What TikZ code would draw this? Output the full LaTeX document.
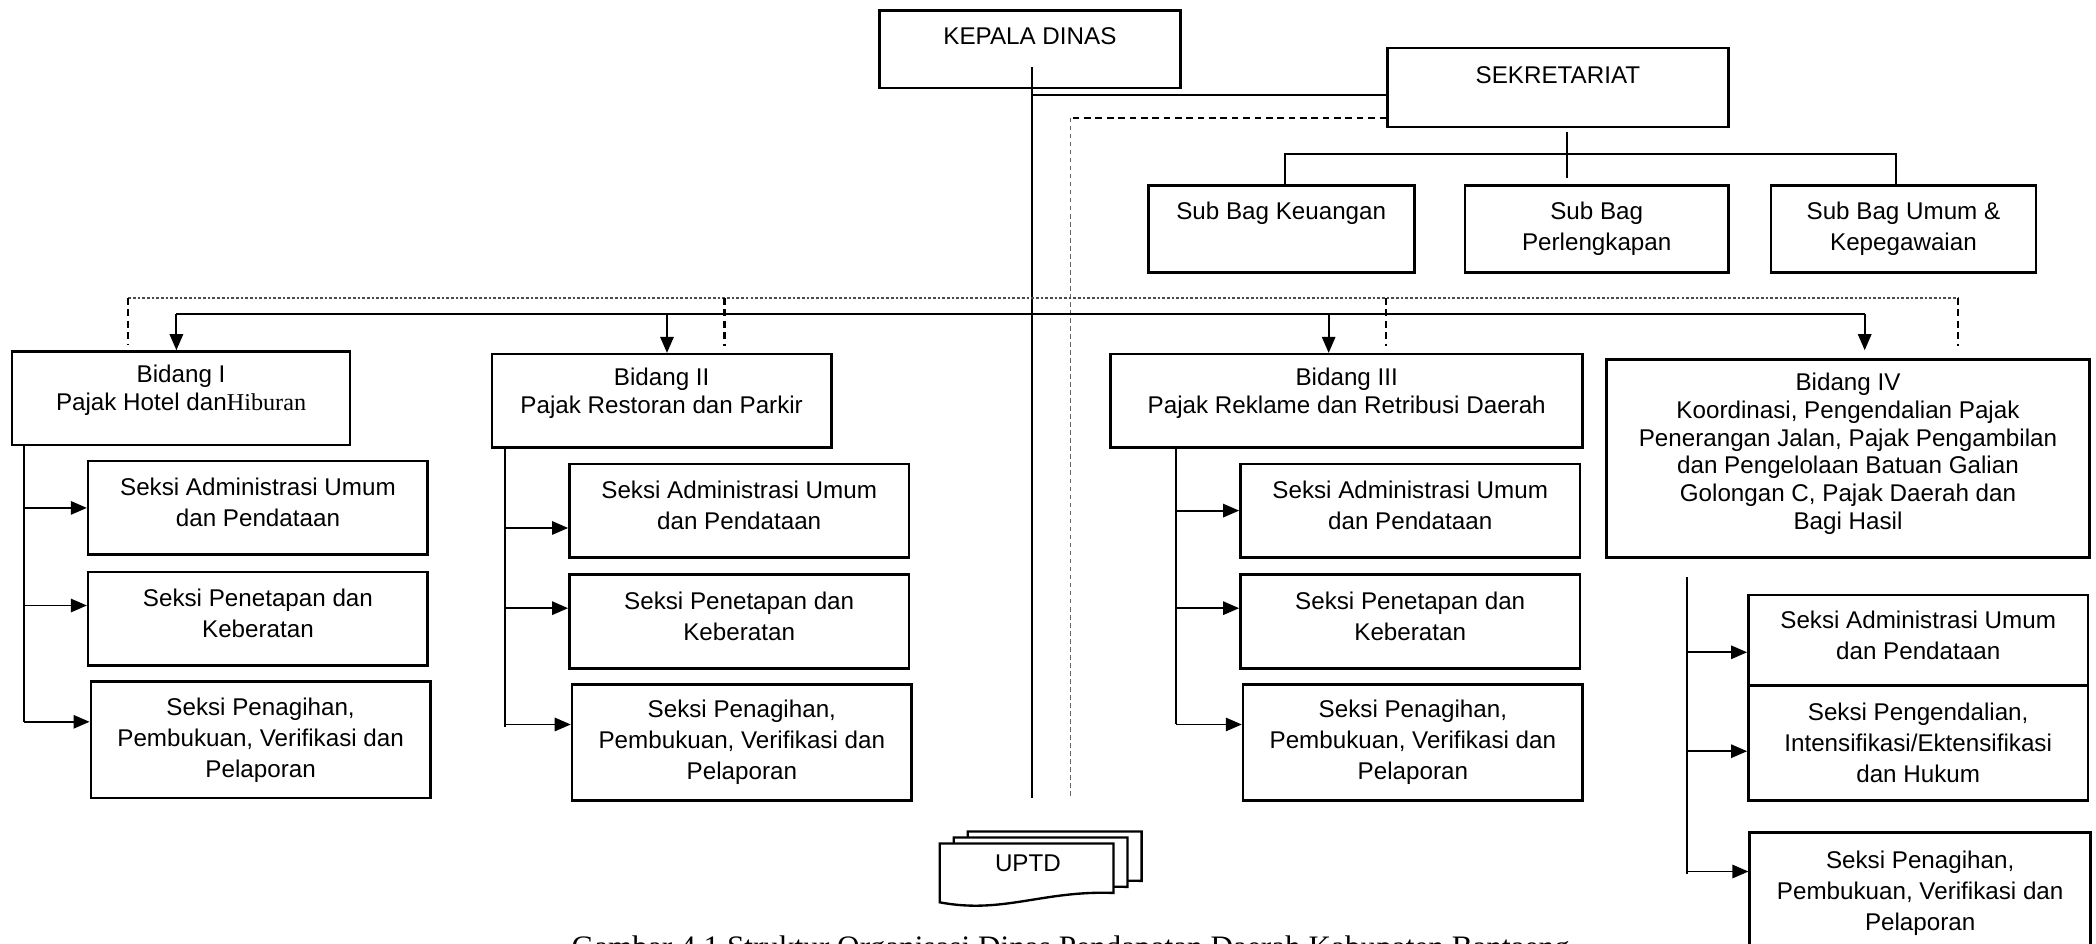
\documentclass[tikz,border=0pt]{standalone}
\usepackage{fontspec}
\setmainfont{Liberation Sans}
\newfontfamily\serifhuruf{Liberation Serif}
\usetikzlibrary{arrows.meta}
\tikzset{
kotak/.style={
draw,
line width=0.55pt,
fill=white,
anchor=north west,
align=center,
inner sep=1pt,
font=\fontsize{5.15}{6.6}\selectfont
},
kepala/.style={
kotak,
minimum width=22.5mm,
minimum height=5.8mm
},
subbag/.style={
kotak,
minimum height=6.5mm
},
bidang/.style={
kotak,
minimum height=7mm,
font=\fontsize{5.15}{5.9}\selectfont
},
seksi/.style={
kotak,
minimum width=25.4mm,
minimum height=7mm
},
seksitiga/.style={
seksi,
minimum height=8.7mm
},
teks/.style={
font=\fontsize{5.15}{6.6}\selectfont,
inner sep=0pt
},
judul/.style={
font=\serifhuruf\fontsize{6.65}{8}\selectfont,
inner sep=0pt
},
garis/.style={
line width=0.4pt
},
panah/.style={
-{Triangle[length=1.2mm,width=1mm]},
line width=0.4pt
},
putus/.style={
line width=0.45pt,
dash pattern=on 0.5mm off 0.35mm
},
titik/.style={
line width=0.3pt,
black!70,
dash pattern=on 0.2mm off 0.15mm
},
tipis/.style={
line width=0.25pt,
black!60,
dash pattern=on 0.35mm off 0.25mm
}
}

\begin{document}
\begin{tikzpicture}[x=0.1mm, y=-0.1mm]
\path[fill=white, use as bounding box] (0,0) rectangle (1568,706);

% pimpinan dan sekretariat
\node[kepala, text depth=5.7pt] (kd) at (657,7) {KEPALA DINAS};
\node[kepala, minimum width=25.5mm, minimum height=5.9mm, text depth=5.4pt] (sek) at (1037,35) {SEKRETARIAT};

\node[subbag, minimum width=19.9mm, text depth=7.7pt] (sb1) at (858,138) {Sub Bag Keuangan};
\node[subbag, minimum width=19.7mm] (sb2) at (1095,138) {Sub Bag\\Perlengkapan};
\node[subbag, minimum width=19.8mm] (sb3) at (1324,138) {Sub Bag Umum \&\\Kepegawaian};

% bidang
\node[bidang, minimum width=25.3mm] (b1) at (8,262) {Bidang I\\Pajak Hotel dan{\serifhuruf Hiburan}\\[-1.4pt]\mbox{}};
\node[bidang, minimum width=25.4mm] (b2) at (367,264) {Bidang II\\Pajak Restoran dan Parkir\\[-1.4pt]\mbox{}};
\node[bidang, minimum width=35.3mm] (b3) at (830,264) {Bidang III\\Pajak Reklame dan Retribusi Daerah\\[-1.4pt]\mbox{}};
\node[bidang, minimum width=36.1mm, minimum height=14.8mm] (b4) at (1201,268) {Bidang IV\\Koordinasi, Pengendalian Pajak\\Penerangan Jalan, Pajak Pengambilan\\dan Pengelolaan Batuan Galian\\Golongan C, Pajak Daerah dan\\Bagi Hasil\\[-2.8pt]\mbox{}};

% seksi bidang I
\node[seksi] (s11) at (65,344) {Seksi Administrasi Umum\\dan Pendataan\\[-4.3pt]\mbox{}};
\node[seksi] (s12) at (65,427) {Seksi Penetapan dan\\Keberatan\\[-4.3pt]\mbox{}};
\node[seksitiga] (s13) at (67,509) {Seksi Penagihan,\\Pembukuan, Verifikasi dan\\Pelaporan};

% seksi bidang II
\node[seksi] (s21) at (425,346) {Seksi Administrasi Umum\\dan Pendataan\\[-4.3pt]\mbox{}};
\node[seksi] (s22) at (425,429) {Seksi Penetapan dan\\Keberatan\\[-4.3pt]\mbox{}};
\node[seksitiga] (s23) at (427,511) {Seksi Penagihan,\\Pembukuan, Verifikasi dan\\Pelaporan};

% seksi bidang III
\node[seksi] (s31) at (927,346) {Seksi Administrasi Umum\\dan Pendataan\\[-4.3pt]\mbox{}};
\node[seksi] (s32) at (927,429) {Seksi Penetapan dan\\Keberatan\\[-4.3pt]\mbox{}};
\node[seksitiga] (s33) at (929,511) {Seksi Penagihan,\\Pembukuan, Verifikasi dan\\Pelaporan};

% seksi bidang IV
\node[seksi, minimum height=6.8mm] (s41) at (1307,444) {Seksi Administrasi Umum\\dan Pendataan\\[-4.3pt]\mbox{}};
\node[seksi, minimum height=8.6mm] (s42) at (1307,512) {Seksi Pengendalian,\\Intensifikasi/Ektensifikasi\\dan Hukum};
\node[seksitiga, minimum width=25.5mm, minimum height=9mm] (s43) at (1308,622) {Seksi Penagihan,\\Pembukuan, Verifikasi dan\\Pelaporan};

\coordinate (kdbawah) at (772,597);
\coordinate (uptdgaris) at (801,597);
\coordinate (cabang) at (1172,115);
\coordinate (koor) at (0,223);
\coordinate (jalur) at (0,235);
\coordinate (kol1) at (18,0);
\coordinate (kol2) at (378,0);
\coordinate (kol3) at (880,0);
\coordinate (kol4) at (1262,0);

% garis komando
\draw[garis] ([yshift=1.7mm]kdbawah |- kd.south) -- (kdbawah);
\draw[garis] ([yshift=-0.55mm]sek.west) -- ([yshift=-0.55mm]kdbawah |- sek.west);
\draw[putus] ([yshift=-2.25mm]sek.west) -- ([yshift=-2.25mm]uptdgaris |- sek.west);
\draw[tipis] ([yshift=-2.25mm]uptdgaris |- sek.west) -- (uptdgaris);

\draw[garis] ([yshift=-0.3mm]cabang |- sek.south) -- ([yshift=0.5mm]cabang |- sb2.north);
\draw[garis] ([xshift=0.25mm]sb1.north) |- (cabang) -| ([xshift=-0.55mm]sb3.north);

% garis koordinasi
\draw[titik] ([xshift=-3.95mm]b1.north |- koor) -- ([xshift=8.25mm]b4.north |- koor);
\draw[putus] ([xshift=-3.95mm]b1.north |- koor) -- ([xshift=-3.95mm,yshift=0.4mm]b1.north);
\draw[putus] ([xshift=4.7mm]b2.north |- koor) -- ([xshift=4.7mm,yshift=0.5mm]b2.north);
\draw[putus] ([xshift=2.95mm]b3.north |- koor) -- ([xshift=2.95mm,yshift=0.5mm]b3.north);
\draw[putus] ([xshift=8.25mm]b4.north |- koor) -- ([xshift=8.25mm,yshift=0.9mm]b4.north);

\draw[garis, line width=0.3pt] ([xshift=-0.35mm]b1.north |- jalur) -- ([xshift=1.25mm]b4.north |- jalur);
\draw[panah] ([xshift=-0.35mm]b1.north |- jalur) -- ([xshift=-0.35mm]b1.north);
\draw[panah] ([xshift=0.4mm]b2.north |- jalur) -- ([xshift=0.4mm]b2.north);
\draw[panah] ([xshift=-1.35mm]b3.north |- jalur) -- ([xshift=-1.35mm]b3.north);
\draw[panah] ([xshift=1.25mm]b4.north |- jalur) -- ([xshift=1.25mm,yshift=0.6mm]b4.north);

% bidang ke seksi
\draw[garis] (kol1 |- b1.south) -- ([yshift=1.35mm]kol1 |- s13.west);
\draw[panah] (kol1 |- s11.west) -- (s11.west);
\draw[panah] ([yshift=1mm]kol1 |- s12.west) -- ([yshift=1mm]s12.west);
\draw[panah] ([yshift=1.35mm]kol1 |- s13.west) -- ([yshift=1.35mm]s13.west);

\draw[garis] (kol2 |- b2.south) -- ([yshift=1.15mm]kol2 |- s23.west);
\draw[panah] ([yshift=-1.3mm]kol2 |- s21.west) -- ([yshift=-1.3mm]s21.west);
\draw[panah] ([yshift=1mm]kol2 |- s22.west) -- ([yshift=1mm]s22.west);
\draw[panah] ([yshift=1.35mm]kol2 |- s23.west) -- ([yshift=1.35mm]s23.west);

\draw[garis] (kol3 |- b3.south) -- ([yshift=1.35mm]kol3 |- s33.west);
\draw[panah] (kol3 |- s31.west) -- (s31.west);
\draw[panah] ([yshift=1mm]kol3 |- s32.west) -- ([yshift=1mm]s32.west);
\draw[panah] ([yshift=1.35mm]kol3 |- s33.west) -- ([yshift=1.35mm]s33.west);

\draw[garis] ([yshift=-1.4mm]kol4 |- b4.south) -- ([yshift=1.4mm]kol4 |- s43.west);
\draw[panah] ([yshift=-0.9mm]kol4 |- s41.west) -- ([yshift=-0.9mm]s41.west);
\draw[panah] ([yshift=-0.6mm]kol4 |- s42.west) -- ([yshift=-0.6mm]s42.west);
\draw[panah] ([yshift=1.6mm]kol4 |- s43.west) -- ([yshift=1.6mm]s43.west);

% UPTD
\foreach \gx/\gy in {21/-9, 10.5/-4.5, 0/0}
  \draw[garis, line width=0.5pt, fill=white, shift={(\gx,\gy)}] (703,675) -- (703,631) -- (833,631) -- (833,668) .. controls (780,666) and (750,684) .. (703,675) -- cycle;
\node[teks] (uptd) at (769,646) {UPTD};

\node[judul, anchor=base] (judul) at (801,716) {Gambar 4.1 Struktur Organisasi Dinas Pendapatan Daerah Kabupaten Bantaeng};

\end{tikzpicture}
\end{document}
